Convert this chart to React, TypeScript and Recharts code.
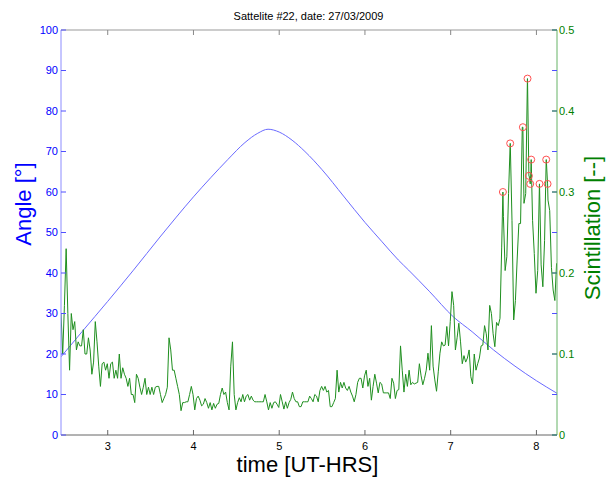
import React from 'react';
import { ComposedChart, Line, Scatter, XAxis, YAxis, ReferenceLine } from 'recharts';

// ---- data ----
const T0 = 2.455; // first sample time (hours)
const DT = 0.02; // sample spacing (hours)
const scintValues = [
  0.150, 0.100, 0.160, 0.230, 0.150, 0.080, 0.150, 0.130, 0.140, 0.105,
  0.115, 0.110, 0.110, 0.130, 0.100, 0.100, 0.120, 0.105, 0.075, 0.090,
  0.140, 0.115, 0.085, 0.060, 0.088, 0.090, 0.080, 0.088, 0.070, 0.088,
  0.090, 0.070, 0.080, 0.070, 0.100, 0.070, 0.083, 0.075, 0.070, 0.060,
  0.070, 0.050, 0.050, 0.040, 0.075, 0.070, 0.059, 0.050, 0.059, 0.070,
  0.050, 0.059, 0.050, 0.059, 0.050, 0.059, 0.060, 0.060, 0.050, 0.040,
  0.045, 0.050, 0.059, 0.120, 0.105, 0.080, 0.080, 0.070, 0.060, 0.050,
  0.030, 0.040, 0.040,
  0.041, 0.041, 0.050, 0.060, 0.050, 0.031, 0.045, 0.048, 0.043, 0.036,
  0.038, 0.045, 0.040, 0.033, 0.040, 0.031, 0.039, 0.033, 0.038, 0.039,
  0.050, 0.058, 0.050, 0.053, 0.040, 0.031, 0.085, 0.115, 0.050, 0.031,
  0.040, 0.046, 0.041, 0.050, 0.041, 0.048, 0.050, 0.043, 0.048, 0.043,
  0.041, 0.041, 0.041, 0.041, 0.041, 0.041, 0.050, 0.041, 0.031, 0.040,
  0.033, 0.040, 0.041, 0.038, 0.034, 0.050, 0.041, 0.032, 0.041, 0.033,
  0.040, 0.044, 0.053, 0.045, 0.041, 0.041, 0.035, 0.035, 0.041, 0.041,
  0.041, 0.041, 0.048, 0.045, 0.041, 0.050, 0.048, 0.041, 0.055, 0.060,
  0.055, 0.060, 0.053, 0.055, 0.035, 0.035, 0.040, 0.045, 0.080, 0.053,
  0.065, 0.058, 0.065, 0.058, 0.055, 0.060, 0.053, 0.048, 0.041, 0.050,
  0.065, 0.070, 0.070, 0.058, 0.073, 0.080, 0.060, 0.070, 0.043, 0.060,
  0.075, 0.064, 0.052, 0.065, 0.063, 0.052, 0.052, 0.052, 0.052, 0.045,
  0.070, 0.064, 0.045, 0.055, 0.056, 0.110, 0.080, 0.053, 0.075, 0.060,
  0.080, 0.062, 0.065, 0.063, 0.064, 0.065, 0.088, 0.073, 0.062, 0.070,
  0.080, 0.101, 0.080, 0.135, 0.085, 0.068, 0.054, 0.078, 0.101, 0.115,
  0.110, 0.111, 0.134, 0.110, 0.140, 0.177, 0.160, 0.105, 0.120, 0.138,
  0.115, 0.088, 0.098, 0.090, 0.095, 0.105, 0.072, 0.063, 0.100, 0.080,
  0.088, 0.095, 0.110, 0.111, 0.135, 0.125, 0.105, 0.160,
  0.150, 0.125, 0.109, 0.139, 0.135, 0.144, 0.232, 0.270, 0.203, 0.220,
  0.298, 0.360, 0.265, 0.142, 0.166, 0.216, 0.261, 0.261, 0.380, 0.286,
  0.298, 0.440, 0.320, 0.325, 0.265, 0.224, 0.175, 0.203, 0.310, 0.210,
  0.183, 0.240, 0.340, 0.290, 0.277, 0.207, 0.179, 0.166, 0.212,
];

const peakTimes = [7.609, 7.694, 7.842, 7.896, 7.912, 7.928, 7.939, 8.036, 8.114, 8.130];
const peakValues = [0.300, 0.360, 0.380, 0.440, 0.320, 0.310, 0.340, 0.310, 0.340, 0.310];

const angleTimes = [2.455, 2.7, 3.0, 3.3, 3.61, 3.8, 4.0, 4.2, 4.4, 4.6, 4.75, 4.87, 5.0, 5.15, 5.3, 5.5, 5.75, 6.0, 6.2, 6.39, 6.51, 6.75, 7.03, 7.25, 7.5, 7.75, 8.0, 8.24];
const angleValues = [19.3, 25.5, 33, 40.7, 48.9, 53.8, 58.8, 63.5, 68, 72.2, 74.5, 75.5, 74.8, 72.8, 70, 65.5, 59, 52.5, 47.7, 43.2, 40.7, 35.5, 29.2, 25.5, 21.0, 17.0, 13.4, 10.3];

const xTicks = [3, 4, 5, 6, 7, 8];
const angleTicks = [0, 10, 20, 30, 40, 50, 60, 70, 80, 90, 100];
const scintTicks = [0, 0.1, 0.2, 0.3, 0.4, 0.5];

const TITLE = 'Sattelite #22, date: 27/03/2009';
const X_LABEL = 'time [UT-HRS]';
const Y_LEFT_LABEL = 'Angle [°]';
const Y_RIGHT_LABEL = 'Scintillation [--]';

// ---- layout ----
const W = 613;
const H = 478;
const PLOT_LEFT = 61;
const PLOT_RIGHT = 557;
const PLOT_TOP = 30;
const PLOT_BOTTOM = 435;
const FONT = '"Liberation Sans", Arial, Helvetica, sans-serif';
const BLUE = '#0000ff';
const GREEN = '#008000';

const scintData = scintValues.map((s, i) => ({ t: T0 + i * DT, s }));
const peakData = peakTimes.map((t, i) => ({ t, s: peakValues[i] }));
const scintLine = [...scintData, ...peakData].sort((a, b) => a.t - b.t);
const angleData = angleTimes.map((t, i) => ({ t, a: angleValues[i] }));

const LeftTick = (props: any) => {
  const { y, payload } = props;
  return (
    <g>
      <line x1={PLOT_LEFT} x2={PLOT_LEFT + 5} y1={y} y2={y} stroke="#5050ff" strokeWidth={1} />
      <line x1={PLOT_RIGHT - 5} x2={PLOT_RIGHT} y1={y} y2={y} stroke="#5050ff" strokeWidth={1} />
      <text x={PLOT_LEFT - 3} y={y} dy="0.36em" textAnchor="end" fill={BLUE} fontSize={11} fontFamily={FONT}>
        {payload.value}
      </text>
    </g>
  );
};

const RightTick = (props: any) => {
  const { y, payload } = props;
  return (
    <g>
      <line x1={PLOT_RIGHT - 5} x2={PLOT_RIGHT} y1={y} y2={y} stroke="#3a9a3a" strokeWidth={1} />
      <text x={PLOT_RIGHT + 2} y={y} dy="0.36em" textAnchor="start" fill={GREEN} fontSize={11} fontFamily={FONT}>
        {payload.value}
      </text>
    </g>
  );
};

const BottomTick = (props: any) => {
  const { x, payload } = props;
  return (
    <g>
      <line x1={x} x2={x} y1={PLOT_BOTTOM} y2={PLOT_BOTTOM - 5} stroke="#666" strokeWidth={1} />
      <line x1={x} x2={x} y1={PLOT_TOP} y2={PLOT_TOP + 5} stroke="#888" strokeWidth={1} />
      <text x={x} y={PLOT_BOTTOM + 11} dy="0.36em" textAnchor="middle" fill="#000" fontSize={11} fontFamily={FONT}>
        {payload.value}
      </text>
    </g>
  );
};

const PeakMark = (props: any) => {
  const { cx, cy } = props;
  return <circle cx={cx} cy={cy} r={3.5} fill="none" stroke="#ff5050" strokeWidth={1} />;
};

export default function App() {
  return (
    <div style={{ position: 'absolute', left: 0, top: 0, width: W, height: H, background: '#fff' }}>
      <ComposedChart width={W} height={H} margin={{ top: PLOT_TOP, right: 0, bottom: 0, left: 0 }}>
        <XAxis
          dataKey="t"
          type="number"
          domain={[2.455, 8.24]}
          allowDataOverflow
          ticks={xTicks}
          height={H - PLOT_BOTTOM}
          tickLine={false}
          tickSize={0}
          tick={BottomTick}
          axisLine={{ stroke: '#666' }}
        />
        <YAxis
          yAxisId="left"
          orientation="left"
          type="number"
          domain={[0, 100]}
          ticks={angleTicks}
          width={PLOT_LEFT}
          tickLine={false}
          tickSize={0}
          tick={LeftTick}
          axisLine={{ stroke: '#8c8cff' }}
        />
        <YAxis
          yAxisId="right"
          orientation="right"
          type="number"
          domain={[0, 0.5]}
          ticks={scintTicks}
          width={W - PLOT_RIGHT}
          tickLine={false}
          tickSize={0}
          tick={RightTick}
          axisLine={{ stroke: '#66b366' }}
        />
        <ReferenceLine yAxisId="left" y={100} stroke="#999" strokeWidth={1} />
        <Line
          yAxisId="left"
          data={angleData}
          dataKey="a"
          type="monotone"
          stroke="#6a6aff"
          strokeWidth={1}
          dot={false}
          activeDot={false}
          isAnimationActive={false}
        />
        <Line
          yAxisId="right"
          data={scintLine}
          dataKey="s"
          type="linear"
          stroke="#1f8f1f"
          strokeWidth={1}
          dot={false}
          activeDot={false}
          isAnimationActive={false}
        />
        <Scatter
          yAxisId="right"
          data={peakData}
          dataKey="s"
          shape={PeakMark}
          isAnimationActive={false}
        />
      </ComposedChart>
      <svg
        width={W}
        height={H}
        style={{ position: 'absolute', left: 0, top: 0, pointerEvents: 'none' }}
      >
        <text x={308.5} y={20} textAnchor="middle" fill="#000" fontSize={11} fontFamily={FONT}>
          {TITLE}
        </text>
        <text x={307.5} y={472} textAnchor="middle" fill="#000" fontSize={22} fontFamily={FONT}>
          {X_LABEL}
        </text>
        <text
          x={31}
          y={204}
          textAnchor="middle"
          fill={BLUE}
          fontSize={22}
          fontFamily={FONT}
          transform="rotate(-90 31 204)"
        >
          {Y_LEFT_LABEL}
        </text>
        <text
          x={600}
          y={228}
          textAnchor="middle"
          fill={GREEN}
          fontSize={22}
          fontFamily={FONT}
          transform="rotate(-90 600 228)"
        >
          {Y_RIGHT_LABEL}
        </text>
      </svg>
    </div>
  );
}
